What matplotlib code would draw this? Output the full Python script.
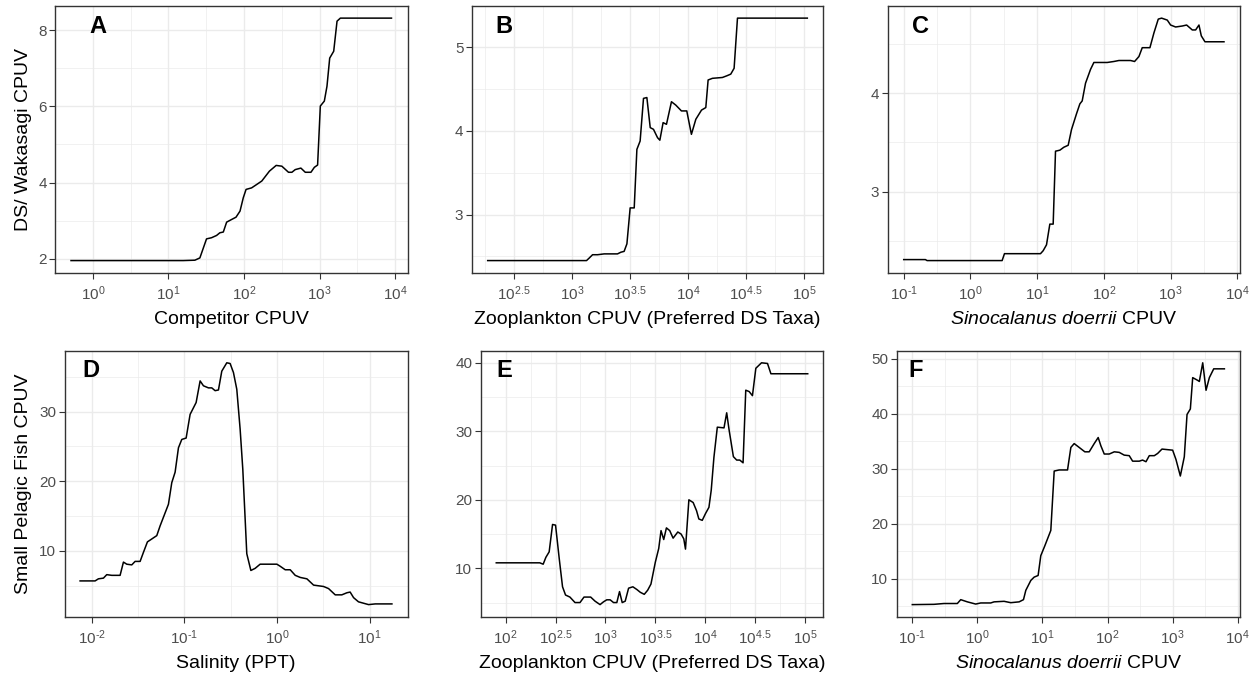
import matplotlib
matplotlib.use("Agg")
import matplotlib.pyplot as plt
import numpy as np
from matplotlib.ticker import FixedLocator

plt.rcParams['font.family'] = 'Liberation Sans'
plt.rcParams['mathtext.fontset'] = 'custom'
plt.rcParams['mathtext.rm'] = 'Liberation Sans'
plt.rcParams['mathtext.it'] = 'Liberation Sans:italic'
plt.rcParams['mathtext.bf'] = 'Liberation Sans:bold'

# x values are log10 positions
a_logx = [-0.288, 1.195, 1.35, 1.416, 1.504, 1.57, 1.637, 1.68, 1.726, 1.77, 1.836, 1.894,
          1.947, 1.99, 2.027, 2.10, 2.168, 2.235, 2.336, 2.425, 2.5, 2.588, 2.633, 2.677,
          2.752, 2.81, 2.885, 2.93, 2.973, 3.009, 3.062, 3.097, 3.133, 3.186, 3.23, 3.274, 3.95]
a_y = [1.95, 1.95, 1.96, 2.02, 2.52, 2.55, 2.61, 2.68, 2.70, 2.96, 3.03, 3.09,
       3.25, 3.60, 3.82, 3.86, 3.95, 4.04, 4.30, 4.45, 4.43, 4.27, 4.27, 4.34,
       4.38, 4.27, 4.27, 4.40, 4.46, 6.01, 6.14, 6.53, 7.27, 7.45, 8.24, 8.32, 8.32]

b_logx = [2.274, 3.126, 3.149, 3.178, 3.221, 3.278, 3.393, 3.422, 3.45, 3.474, 3.502, 3.537,
          3.56, 3.588, 3.617, 3.646, 3.675, 3.703, 3.738, 3.758, 3.786, 3.815, 3.858, 3.895,
          3.944, 3.99, 4.03, 4.068, 4.117, 4.154, 4.174, 4.211, 4.297, 4.335, 4.369, 4.398,
          4.427, 5.029]
b_y = [2.45, 2.45, 2.48, 2.52, 2.52, 2.53, 2.53, 2.55, 2.56, 2.65, 3.08, 3.08,
       3.78, 3.88, 4.39, 4.40, 4.04, 4.02, 3.92, 3.89, 4.10, 4.08, 4.35, 4.31,
       4.24, 4.24, 3.96, 4.14, 4.25, 4.28, 4.61, 4.63, 4.64, 4.66, 4.68, 4.75,
       5.35, 5.35]

c_logx = [-1.0, -0.675, -0.65, 0.475, 0.51, 1.05, 1.09, 1.14, 1.19, 1.24, 1.275, 1.34,
          1.40, 1.465, 1.515, 1.59, 1.64, 1.675, 1.725, 1.80, 1.85, 2.05, 2.15, 2.225,
          2.40, 2.46, 2.525, 2.575, 2.69, 2.75, 2.815, 2.865, 2.95, 3.0, 3.075, 3.175,
          3.24, 3.325, 3.375, 3.425, 3.46, 3.515, 3.80]
c_y = [2.31, 2.31, 2.30, 2.30, 2.37, 2.37, 2.40, 2.46, 2.67, 2.67, 3.41, 3.42,
       3.45, 3.47, 3.63, 3.79, 3.89, 3.92, 4.10, 4.24, 4.31, 4.31, 4.32, 4.33,
       4.33, 4.32, 4.37, 4.46, 4.46, 4.61, 4.75, 4.76, 4.74, 4.69, 4.67, 4.68,
       4.69, 4.64, 4.64, 4.69, 4.58, 4.52, 4.52]

d_logx = [-2.126, -1.964, -1.928, -1.874, -1.838, -1.784, -1.694, -1.658, -1.622, -1.568,
          -1.532, -1.478, -1.442, -1.399, -1.298, -1.262, -1.172, -1.136, -1.10, -1.064,
          -1.028, -0.981, -0.938, -0.873, -0.83, -0.794, -0.74, -0.704, -0.668, -0.632,
          -0.596, -0.542, -0.506, -0.47, -0.434, -0.398, -0.369, -0.326, -0.282, -0.236,
          -0.182, -0.001, 0.035, 0.089, 0.143, 0.197, 0.251, 0.323, 0.395, 0.503, 0.557,
          0.629, 0.70, 0.755, 0.79, 0.827, 0.88, 0.989, 1.061, 1.241]
d_y = [5.7, 5.7, 6.0, 6.1, 6.6, 6.5, 6.5, 8.4, 8.1, 8.0,
       8.5, 8.5, 9.8, 11.3, 12.2, 13.6, 16.7, 19.8, 21.3, 24.8,
       26.0, 26.2, 29.6, 31.3, 34.4, 33.7, 33.4, 33.4, 33.0, 33.1,
       35.8, 37.0, 36.9, 35.6, 33.2, 27.5, 21.7, 9.6, 7.2, 7.5,
       8.1, 8.1, 7.8, 7.3, 7.3, 6.5, 6.2, 6.0, 5.1, 4.9, 4.6,
       3.7, 3.7, 4.0, 4.1, 3.3, 2.7, 2.3, 2.4, 2.4]

e_logx = [1.906, 2.342, 2.376, 2.403, 2.436, 2.47, 2.50, 2.537, 2.57, 2.60, 2.644, 2.695,
          2.745, 2.785, 2.852, 2.896, 2.946, 2.98, 3.013, 3.047, 3.081, 3.114, 3.141, 3.168,
          3.198, 3.232, 3.275, 3.315, 3.349, 3.389, 3.423, 3.456, 3.50, 3.534, 3.557, 3.584,
          3.611, 3.644, 3.678, 3.725, 3.758, 3.785, 3.802, 3.836, 3.879, 3.913, 3.936, 3.97,
          4.003, 4.037, 4.06, 4.087, 4.121, 4.188, 4.215, 4.238, 4.282, 4.315, 4.346, 4.379,
          4.406, 4.44, 4.473, 4.507, 4.564, 4.624, 4.658, 5.027]
e_y = [10.8, 10.8, 10.6, 11.6, 12.4, 16.4, 16.3, 11.4, 7.3, 6.1, 5.8, 5.0,
       5.0, 5.8, 5.8, 5.2, 4.7, 5.1, 5.4, 5.4, 5.0, 5.0, 6.6, 5.0,
       5.2, 7.1, 7.3, 6.9, 6.5, 6.2, 6.8, 7.7, 10.9, 12.9, 15.5, 14.2,
       15.9, 15.5, 14.4, 15.3, 15.0, 14.3, 12.8, 20.0, 19.6, 18.4, 17.2, 17.0,
       18.0, 18.9, 21.4, 26.2, 30.6, 30.5, 32.7, 30.3, 26.3, 25.8, 25.8, 25.4,
       36.0, 35.8, 35.2, 39.2, 40.0, 39.9, 38.4, 38.4]

f_logx = [-1.0, -0.667, -0.513, -0.308, -0.256, -0.154, -0.026, 0.051, 0.205, 0.256, 0.41,
          0.513, 0.641, 0.708, 0.744, 0.821, 0.872, 0.933, 0.974, 1.036, 1.128, 1.18, 1.256,
          1.385, 1.436, 1.487, 1.564, 1.651, 1.718, 1.795, 1.856, 1.897, 1.949, 2.026, 2.103,
          2.179, 2.256, 2.333, 2.385, 2.487, 2.538, 2.59, 2.641, 2.718, 2.769, 2.836, 3.0,
          3.051, 3.118, 3.179, 3.221, 3.272, 3.308, 3.385, 3.41, 3.462, 3.513, 3.564, 3.631,
          3.795]
f_y = [5.3, 5.35, 5.5, 5.5, 6.2, 5.8, 5.4, 5.6, 5.6, 5.8, 5.9,
       5.65, 5.8, 6.2, 7.9, 9.7, 10.3, 10.6, 14.2, 16.0, 18.8, 29.6, 29.8,
       29.8, 33.9, 34.6, 33.9, 33.1, 33.1, 34.6, 35.7, 34.2, 32.7, 32.7, 33.1,
       33.0, 32.5, 32.4, 31.4, 31.4, 31.6, 31.3, 32.4, 32.4, 32.8, 33.6, 33.4,
       31.7, 28.7, 32.2, 39.9, 40.9, 46.6, 46.1, 45.9, 49.3, 44.3, 46.6, 48.2,
       48.2]

panel_letters = ['A', 'B', 'C', 'D', 'E', 'F']
x_titles = ['Competitor CPUV',
            'Zooplankton CPUV (Preferred DS Taxa)',
            r'$\mathit{Sinocalanus\ doerrii}$ CPUV',
            'Salinity (PPT)',
            'Zooplankton CPUV (Preferred DS Taxa)',
            r'$\mathit{Sinocalanus\ doerrii}$ CPUV']
y_titles = ['DS/ Wakasagi CPUV', 'Small Pelagic Fish CPUV']

x_major = [[0, 1, 2, 3, 4],
           [2.5, 3, 3.5, 4, 4.5, 5],
           [-1, 0, 1, 2, 3, 4],
           [-2, -1, 0, 1],
           [2, 2.5, 3, 3.5, 4, 4.5, 5],
           [-1, 0, 1, 2, 3, 4]]
y_major = [[2, 4, 6, 8], [3, 4, 5], [3, 4], [10, 20, 30], [10, 20, 30, 40], [10, 20, 30, 40, 50]]

series = [(a_logx, a_y), (b_logx, b_y), (c_logx, c_y),
          (d_logx, d_y), (e_logx, e_y), (f_logx, f_y)]

W, H = 1258, 678
# panel boxes in pixels: left, top, right, bottom
boxes = [(55, 6, 407.5, 272.7), (471.7, 6, 823.3, 272.7), (887.7, 6, 1240, 272.7),
         (64.5, 350.7, 407.5, 616.7), (480.7, 350.7, 823.3, 616.7), (896.7, 350.7, 1240, 616.7)]
letter_x = [0.122, 0.092, 0.092, 0.077, 0.07, 0.056]

grid_col = '#EBEBEB'
edge_col = '#333333'
tick_col = '#4D4D4D'


def pow_label(e):
    # short hyphen for negative exponents, as in the original
    s = ('%g' % e).replace('-', '\u2010')
    return r'$\mathregular{10^{%s}}$' % s


def minor_between(vals, lo, hi):
    step = vals[1] - vals[0]
    ext = [vals[0] - step] + list(vals) + [vals[-1] + step]
    mids = [(ext[i] + ext[i + 1]) / 2 for i in range(len(ext) - 1)]
    return [m for m in mids if lo <= m <= hi]


fig = plt.figure(figsize=(W / 100, H / 100), dpi=100)

for i, (lx, ly) in enumerate(series):
    l, t, r, b = boxes[i]
    ax = fig.add_axes([l / W, 1 - b / H, (r - l) / W, (b - t) / H])
    xs = 10 ** np.array(lx)
    ax.plot(xs, ly, color='black', lw=1.1, zorder=3)
    ax.set_xscale('log')
    ax.margins(x=0.05, y=0.05)

    x0, x1 = np.log10(ax.get_xlim())
    y0, y1 = ax.get_ylim()
    xm = x_major[i]
    ym = y_major[i]
    ax.xaxis.set_major_locator(FixedLocator([10 ** v for v in xm]))
    ax.set_xticklabels([pow_label(v) for v in xm])
    ax.xaxis.set_minor_locator(FixedLocator([10 ** v for v in minor_between(xm, x0, x1)]))
    ax.set_yticks(ym)
    ax.set_yticks(minor_between(ym, y0, y1), minor=True)
    ax.set_xlim(10 ** x0, 10 ** x1)
    ax.set_ylim(y0, y1)

    ax.grid(True, which='major', color=grid_col, lw=1.0, zorder=0)
    ax.grid(True, which='minor', color=grid_col, lw=0.5, zorder=0)
    ax.set_axisbelow(True)
    ax.tick_params(which='major', length=4, width=0.8, color=edge_col,
                   labelsize=11, labelcolor=tick_col, pad=2)
    ax.tick_params(axis='x', which='major', pad=4.5)
    ax.tick_params(which='minor', length=0)
    for s in ax.spines.values():
        s.set_color(edge_col)
        s.set_linewidth(1.0)

    ax.set_xlabel(x_titles[i], fontsize=14, labelpad=6)
    ax.text(letter_x[i], 0.925, panel_letters[i], transform=ax.transAxes,
            fontsize=17, fontweight='bold', ha='center', va='center')

fig.text(24 / W, 1 - (6 + 272.7) / 2 / H, y_titles[0], rotation=90,
         ha='center', va='center', fontsize=14)
fig.text(24 / W, 1 - (350.7 + 616.7) / 2 / H, y_titles[1], rotation=90,
         ha='center', va='center', fontsize=14)

fig.savefig('out.png', dpi=100)
